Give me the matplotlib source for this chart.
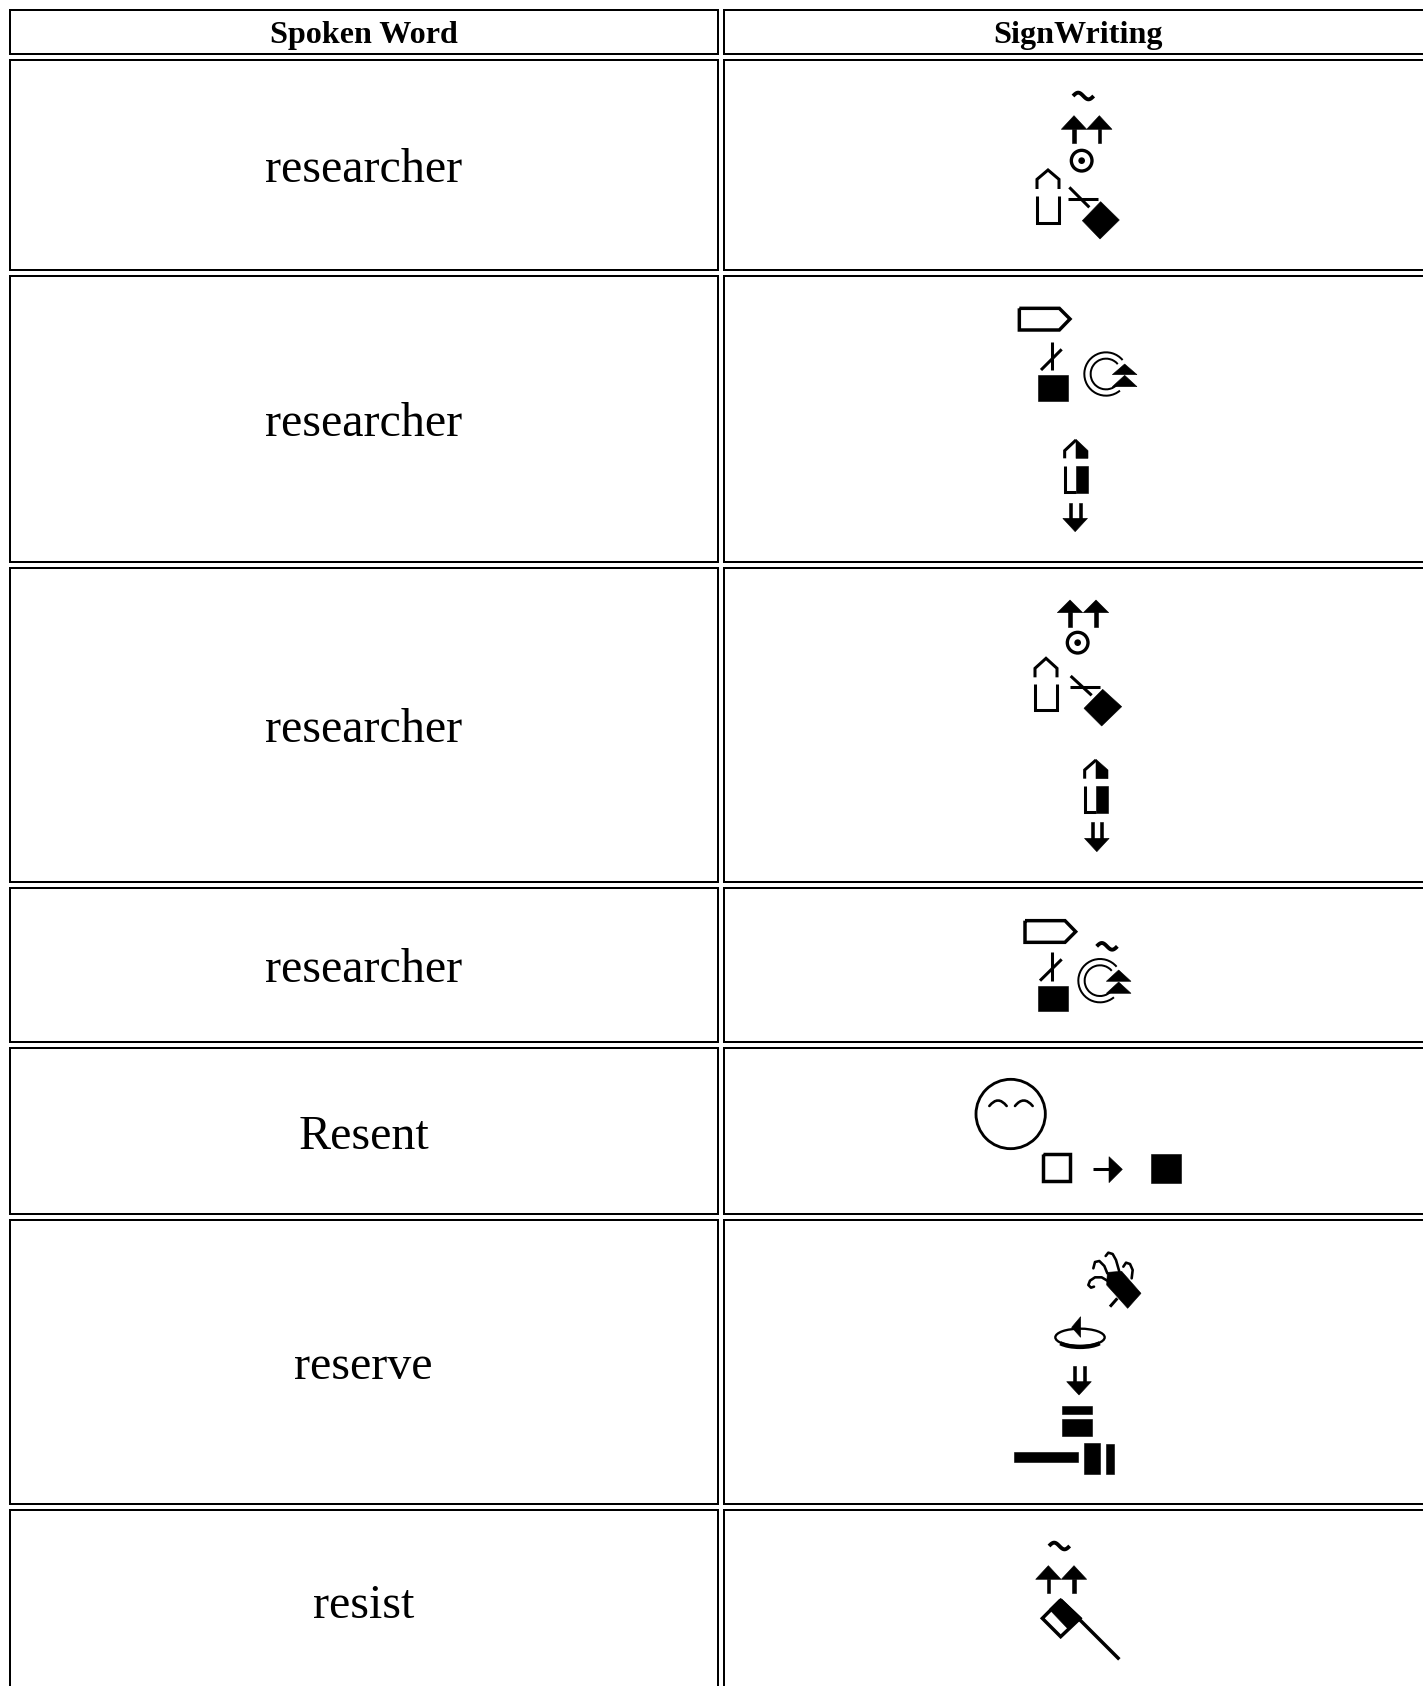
import numpy as np
import matplotlib
matplotlib.use("Agg")
import matplotlib.pyplot as plt
from matplotlib.patches import Polygon, Rectangle, Circle, Ellipse, Arc
from matplotlib.path import Path
from matplotlib.patches import PathPatch

headers = ["Spoken Word", "SignWriting"]
words = ["researcher", "researcher", "researcher", "researcher", "Resent", "reserve", "resist"]
word_baselines = [182, 436, 742, 982, 1149, 1379, 1618]
row_edges = [(60, 270), (276, 562), (568, 882), (888, 1042), (1048, 1214), (1220, 1504), (1510, 1760)]
head_edge = (10, 54)
col_edges = [(10, 718), (724, 1500)]
col_centers = [363.5, 1078]

W, H = 1423, 1686
fig = plt.figure(figsize=(W / 100, H / 100), dpi=100, facecolor="white")
ax = fig.add_axes([0, 0, 1, 1])
ax.set_xlim(0, W)
ax.set_ylim(H, 0)
ax.axis("off")
PX = 0.72
BOLD = 1.3


class G:
    """Glyph drawing in crop-local coordinates of a 3x zoom."""
    def __init__(self, ox, oy):
        self.ox, self.oy = ox, oy

    def p(self, pts):
        a = np.array(pts, float)
        return np.c_[self.ox + a[:, 0] / 3, self.oy + a[:, 1] / 3]

    def fill(self, pts):
        ax.add_patch(Polygon(self.p(pts), closed=True, fc="k", ec="k", lw=0.4))

    def rect(self, x0, y0, x1, y1):
        self.fill([(x0, y0), (x1, y0), (x1, y1), (x0, y1)])

    def line(self, pts, lw=7, closed=False, color="k"):
        q = self.p(pts)
        if closed:
            q = np.vstack([q, q[0]])
        ax.plot(q[:, 0], q[:, 1], color=color, lw=lw * BOLD / 3 * PX, solid_joinstyle="miter",
                solid_capstyle="butt")

    def hook(self, pts, lw=6):
        q = self.p(pts)
        ax.plot(q[:, 0], q[:, 1], color="k", lw=lw * BOLD / 3 * PX, solid_joinstyle="round",
                solid_capstyle="round")

    def curve(self, pts, lw=6):
        q = self.p(pts)
        codes = [Path.MOVETO] + [Path.CURVE3] * (len(q) - 1)
        ax.add_patch(PathPatch(Path(q, codes), fc="none", ec="k", lw=lw * BOLD / 3 * PX, capstyle="round"))

    def tilde(self, cx, cy):
        xs = np.linspace(-31, 31, 30)
        ys = -10 * np.sin(xs / 31 * np.pi)
        self.line(np.c_[cx + xs, cy - ys], lw=9)

    def arrow_up(self, ax_, top, base, stem, hw=38):
        self.fill([(ax_, top), (ax_ + hw, base), (ax_ - hw, base)])
        self.rect(ax_ - 5, base - 2, ax_ + 5, stem)

    def arrow_down(self, x0, x1, top, base, tip, hw=37):
        c = (x0 + x1) / 2
        self.rect(x0 - 4.5, top, x0 + 4.5, base + 2)
        self.rect(x1 - 4.5, top, x1 + 4.5, base + 2)
        self.fill([(c - hw, base), (c + hw, base), (c, tip)])

    def target(self, cx, cy, r=31):
        c = self.p([(cx, cy)])[0]
        ax.add_patch(Circle(c, r / 3, fc="none", ec="k", lw=10 / 3 * PX))
        ax.add_patch(Circle(c, 10 / 3, fc="k", ec="none"))

    def hand_open(self, x0, x1, apex, shoulder, upper_end, low_top, bottom, lw=7):
        m = (x0 + x1) / 2
        self.line([(x0, upper_end), (x0, shoulder), (m, apex), (x1, shoulder), (x1, upper_end)], lw)
        self.line([(x0, low_top), (x0, bottom), (x1, bottom), (x1, low_top)], lw)

    def hand_half(self, x0, x1, apex, shoulder, upper_end, low_top, bottom, lw=7):
        m = (x0 + x1) / 2
        self.line([(x0, upper_end), (x0, shoulder), (m, apex)], lw)
        self.fill([(m, apex - 2), (x1 + 2, shoulder), (x1 + 2, upper_end), (m, upper_end)])
        self.line([(x0, low_top), (x0, bottom), (m, bottom)], lw)
        self.rect(m, low_top, x1 + 2, bottom + 3)

    def rotation(self, cx, cy, ah_x, a1, b1, a2, b2, R=65, r=46, hw=37):
        c = self.p([(cx, cy)])[0]
        ax.add_patch(Arc(c, 2 * R / 3, 2 * R / 3, theta1=50, theta2=320, ec="k", lw=6 / 3 * PX))
        ax.add_patch(Arc(c, 2 * r / 3, 2 * r / 3, theta1=40, theta2=320, ec="k", lw=6 / 3 * PX))
        self.fill([(ah_x, a1), (ah_x + hw, b1), (ah_x - hw, b1)])
        self.fill([(ah_x, a2), (ah_x + hw, b2), (ah_x - hw, b2)])


# ---- table frames
for (x0, x1) in col_edges:
    for (y0, y1) in [head_edge] + row_edges:
        ax.add_patch(Rectangle((x0, y0), x1 - x0, y1 - y0, fc="white", ec="k", lw=2 * PX, snap=True))

# ---- text
for cx, h in zip(col_centers, headers):
    ax.text(cx, 43, h, family="Liberation Serif", weight="bold", fontsize=32.2 * PX, ha="center", va="baseline")
for w, b in zip(words, word_baselines):
    ax.text(col_centers[0], b, w, family="Liberation Serif", fontsize=48 * PX, ha="center", va="baseline",
            color="k")

# ---- row 1
g = G(980, 70)
g.tilde(310, 78)
g.arrow_up(282, 137, 178, 218)
g.arrow_up(358, 137, 178, 218)
g.target(305, 272)
g.hand_open(171, 237, 300, 328, 357, 378, 458)
g.line([(268, 352), (328, 412)], 7)
g.line([(264, 388), (355, 388)], 7)
g.fill([(362, 395), (418, 450), (360, 507), (307, 452)])

# ---- row 2
g = G(980, 290)
g.line([(118, 55), (238, 55), (270, 87), (238, 120), (118, 120)], 8, closed=True)
g.line([(215, 155), (215, 240)], 7)
g.line([(245, 178), (183, 240)], 7)
g.rect(175, 256, 265, 332)
g.rotation(378, 252, 434, 222, 254, 256, 290)
g.hand_half(254, 322, 450, 482, 505, 527, 607)
g.arrow_down(271, 300, 638, 685, 725)

# ---- row 3
g = G(1000, 590)
g.arrow_up(210, 30, 68, 110)
g.arrow_up(288, 30, 68, 110)
g.target(233, 158)
g.hand_open(105, 171, 205, 235, 262, 282, 360)
g.line([(212, 258), (275, 316)], 7)
g.line([(210, 292), (300, 292)], 7)
g.fill([(308, 298), (365, 350), (305, 408), (252, 355)])
g.hand_half(254, 322, 510, 540, 566, 588, 667)
g.arrow_down(276, 305, 697, 745, 785)

# ---- row 4
g = G(960, 900)
g.line([(195, 62), (315, 62), (347, 95), (315, 127), (195, 127)], 8, closed=True)
g.line([(275, 157), (275, 242)], 7)
g.line([(305, 178), (240, 242)], 7)
g.rect(235, 257, 325, 333)
g.tilde(441, 139)
g.rotation(420, 242, 476, 210, 244, 246, 280)

# ---- row 5
c = g.p([(152, 642)])[0]
ax.add_patch(Circle(c, 104 / 3, fc="none", ec="k", lw=8.5 / 3 * PX))
g.curve([(88, 618), (114, 585), (140, 618)], 6)
g.curve([(165, 618), (191, 585), (218, 618)], 6)
g.line([(248, 761), (329, 761), (329, 842), (248, 842)], 8, closed=True)
g.line([(400, 808), (455, 808)], 7)
g.fill([(447, 770), (487, 808), (447, 848)])
g.rect(573, 762, 663, 850)

# ---- row 6
g = G(990, 1240)
g.fill([(352, 97), (395, 94), (453, 160), (413, 205), (350, 135)])
g.hook([(352, 122), (335, 112), (315, 112), (300, 122), (295, 135), (303, 143), (312, 140)])
g.hook([(352, 100), (343, 78), (328, 63), (315, 66), (310, 85)])
g.hook([(388, 95), (378, 60), (368, 42), (355, 38), (347, 48)])
g.hook([(425, 115), (428, 90), (420, 72), (408, 68), (400, 80)])
g.line([(360, 200), (382, 175)], 7)
c = g.p([(270, 292)])[0]
ax.add_patch(Ellipse(c, 148 / 3, 52 / 3, fc="none", ec="k", lw=7 / 3 * PX))
ax.add_patch(Arc((c[0], c[1] + 0.6), 146 / 3, 54 / 3, theta1=15, theta2=165, ec="k", lw=13 / 3 * PX))
g.fill([(245, 262), (272, 230), (272, 292)])
g.arrow_down(252, 282, 378, 425, 465)
g.rect(216, 497, 306, 521)
g.rect(216, 538, 306, 587)
g.rect(72, 635, 264, 665)
g.rect(282, 610, 330, 702)
g.rect(348, 612, 372, 702)

# ---- row 7
g = G(1000, 1520)
g.tilde(178, 78)
g.arrow_up(145, 137, 178, 218)
g.arrow_up(222, 137, 178, 218)
g.line([(182, 240), (240, 295), (182, 350), (127, 295)], 8, closed=True)
g.fill([(182, 235), (245, 295), (205, 328), (148, 268)])
g.line([(235, 295), (358, 418)], 8)

fig.savefig("out.png", dpi=100, facecolor="white")
